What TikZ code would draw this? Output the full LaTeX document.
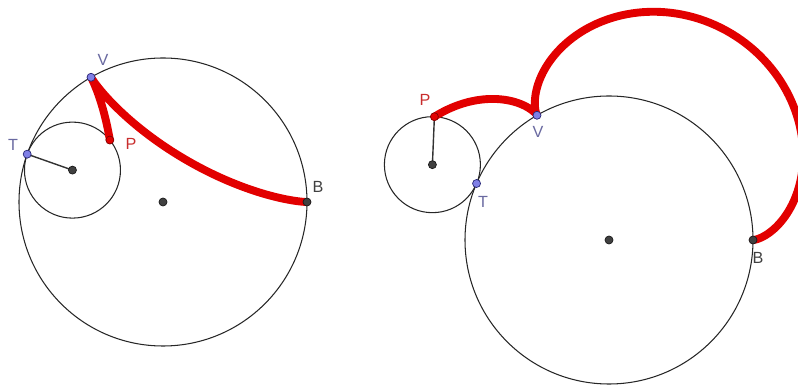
\documentclass[tikz,border=0pt]{standalone}
\usepackage{fontspec}
\setmainfont{Liberation Sans}
\usetikzlibrary{calc}
\definecolor{curvered}{RGB}{226,0,0}
\definecolor{contactblue}{RGB}{128,128,230}
\definecolor{contactedge}{RGB}{40,40,120}
\definecolor{bluetext}{RGB}{105,105,160}
\definecolor{redtext}{RGB}{200,45,45}

\begin{document}
\begin{tikzpicture}
  \tikzstyle{circ}=[black!85,line width=0.75pt]
  \tikzstyle{spoke}=[black!80,line width=1pt]
  \tikzstyle{trace}=[curvered,line width=5.6pt,line join=round,line cap=round]
  \tikzstyle{dot}=[circle,inner sep=0pt,minimum size=0.2cm,line width=0.5pt]
  \tikzstyle{centre}=[dot,fill=black!75,draw=black!90]
  \tikzstyle{contact}=[dot,fill=contactblue,draw=contactedge]
  \tikzstyle{tracer}=[dot,fill=curvered,draw=red!50!black]
  \tikzstyle{lbl}=[font=\fontsize{11.5}{12}\selectfont,inner sep=1pt]
  \useasboundingbox (0,0) rectangle (19.95,9.675);
  % Left: small circle rolling inside the big one (R = 3r)
  \coordinate (lO) at (4.075,4.625);
  \coordinate (lS) at ($(lO)+(160.6:2.4)$);
  \coordinate (lT) at ($(lO)+(160.6:3.6)$);
  \coordinate (lP) at ($(lS)+(38.8:1.2)$);
  \coordinate (lV) at ($(lO)+(120:3.6)$);
  \coordinate (lB) at ($(lO)+(0:3.6)$);
  \draw[circ] (lO) circle[radius=3.6];
  \draw[circ] (lS) circle[radius=1.2];
  \draw[spoke] (lT) -- (lS);
  \draw[trace,shift={(lO)}] plot[domain=0:160.6,samples=180]
    ({2.4*cos(\x)+1.2*cos(2*\x)},{2.4*sin(\x)-1.2*sin(2*\x)});
  \node[centre] (lOdot) at (lO) {};
  \node[centre] (lSdot) at (lS) {};
  \node[contact] (lTdot) at (lT) {};
  \node[contact] (lVdot) at (lV) {};
  \node[tracer] (lPdot) at (lP) {};
  \node[centre] (lBdot) at (lB) {};
  \node[lbl,text=bluetext] (lTlbl) at ($(lT)+(-0.355,0.23)$) {T};
  \node[lbl,text=bluetext] (lVlbl) at ($(lV)+(0.3,0.43)$) {V};
  \node[lbl,text=redtext] (lPlbl) at ($(lP)+(0.53,-0.1)$) {P};
  \node[lbl,text=black!75] (lBlbl) at ($(lB)+(0.275,0.375)$) {B};
  % Right: small circle rolling outside the big one (R = 3r)
  \coordinate (rO) at (15.225,3.675);
  \coordinate (rS) at ($(rO)+(156.9:4.8)$);
  \coordinate (rT) at ($(rO)+(156.9:3.6)$);
  \coordinate (rP) at ($(rS)+(87.6:1.2)$);
  \coordinate (rV) at ($(rO)+(120:3.6)$);
  \coordinate (rB) at ($(rO)+(0:3.6)$);
  \draw[circ] (rO) circle[radius=3.6];
  \draw[circ] (rS) circle[radius=1.2];
  \draw[spoke] (rP) -- (rS);
  \draw[trace,shift={(rO)}] plot[domain=0:156.9,samples=180]
    ({4.8*cos(\x)-1.2*cos(4*\x)},{4.8*sin(\x)-1.2*sin(4*\x)});
  \node[centre] (rOdot) at (rO) {};
  \node[centre] (rSdot) at (rS) {};
  \node[contact] (rTdot) at (rT) {};
  \node[contact] (rVdot) at (rV) {};
  \node[tracer] (rPdot) at (rP) {};
  \node[centre] (rBdot) at (rB) {};
  \node[lbl,text=redtext] (rPlbl) at ($(rP)+(-0.235,0.42)$) {P};
  \node[lbl,text=bluetext] (rVlbl) at ($(rV)+(0.025,-0.42)$) {V};
  \node[lbl,text=bluetext] (rTlbl) at ($(rT)+(0.16,-0.46)$) {T};
  \node[lbl,text=black!75] (rBlbl) at ($(rB)+(0.125,-0.45)$) {B};
\end{tikzpicture}
\end{document}
